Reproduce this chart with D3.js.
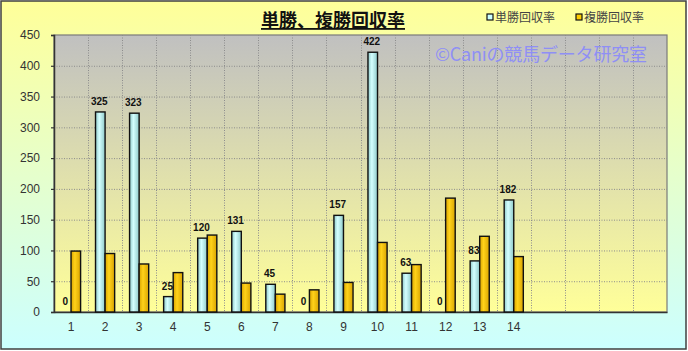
<!DOCTYPE html>
<html>
<head>
<meta charset="utf-8">
<script src="https://cdn.jsdelivr.net/npm/d3@7"></script>
<style>
  html, body { margin: 0; padding: 0; background: #fff; }
  svg { display: block; }
</style>
</head>
<body>
<div id="chart"></div>
<script>
// Data
const categories = ["1", "2", "3", "4", "5", "6", "7", "8", "9", "10", "11", "12", "13", "14"];
const slotCount = 18; // the x axis has room for 18 races, only 14 are filled
const tanValues = [0, 325, 323, 25, 120, 131, 45, 0, 157, 422, 63, 0, 83, 182];   // 単勝回収率
const fukuValues = [99, 95, 78, 64, 125, 47, 29, 36, 48, 113, 77, 185, 123, 90];  // 複勝回収率
const seriesNames = ["単勝回収率", "複勝回収率"];
const yTicks = [0, 50, 100, 150, 200, 250, 300, 350, 400, 450];

const width = 688, height = 351;
const plot = { left: 54, top: 35, right: 667, bottom: 312 };
const jpFont = "'Noto Sans CJK JP', sans-serif";
const numFont = "'Liberation Sans', Arial, sans-serif";

const svg = d3.select("#chart").append("svg")
  .attr("width", width)
  .attr("height", height);

const defs = svg.append("defs");

// outer background: yellow at top fading to pale cyan
const bgGrad = defs.append("linearGradient").attr("id", "bgGrad")
  .attr("x1", 0).attr("y1", 0).attr("x2", 0).attr("y2", 1);
bgGrad.append("stop").attr("offset", "0%").attr("stop-color", "#ffff99");
bgGrad.append("stop").attr("offset", "100%").attr("stop-color", "#ccffff");

// plot area: gray at top to light yellow at bottom
const plotGrad = defs.append("linearGradient").attr("id", "plotGrad")
  .attr("x1", 0).attr("y1", 0).attr("x2", 0).attr("y2", 1);
plotGrad.append("stop").attr("offset", "0%").attr("stop-color", "#c0c0c0");
plotGrad.append("stop").attr("offset", "100%").attr("stop-color", "#ffff99");

// bar shading, a bit of a cylinder look
const barGrads = [
  { id: "tanGrad", edge: "#8fc9c9", mid: "#d4ffff" },
  { id: "fukuGrad", edge: "#d9a400", mid: "#ffd21a" }
];
barGrads.forEach(g => {
  const lg = defs.append("linearGradient").attr("id", g.id)
    .attr("x1", 0).attr("y1", 0).attr("x2", 1).attr("y2", 0);
  lg.append("stop").attr("offset", "0%").attr("stop-color", g.edge);
  lg.append("stop").attr("offset", "40%").attr("stop-color", g.mid);
  lg.append("stop").attr("offset", "100%").attr("stop-color", g.edge);
});

svg.append("rect")
  .attr("x", 1).attr("y", 1)
  .attr("width", width - 3).attr("height", height - 3)
  .attr("fill", "url(#bgGrad)")
  .attr("stroke", "#404040")
  .attr("stroke-width", 1.5);

svg.append("rect")
  .attr("x", plot.left).attr("y", plot.top)
  .attr("width", plot.right - plot.left).attr("height", plot.bottom - plot.top)
  .attr("fill", "url(#plotGrad)")
  .attr("stroke", "#7a7a7a")
  .attr("stroke-width", 1.2);

// scales
const x0 = d3.scaleBand()
  .domain(d3.range(slotCount))
  .range([plot.left, plot.right])
  .padding(0);

const x1 = d3.scaleBand()
  .domain(["tan", "fuku"])
  .range([0, x0.bandwidth()])
  .paddingInner(0)
  .paddingOuter(0.78);

const y = d3.scaleLinear()
  .domain([0, 450])
  .range([plot.bottom, plot.top]);

// grid
const grid = svg.append("g");
grid.selectAll("line.h")
  .data(yTicks.slice(1, -1))
  .join("line")
  .attr("x1", plot.left).attr("x2", plot.right)
  .attr("y1", d => y(d) + 0.5).attr("y2", d => y(d) + 0.5)
  .attr("stroke", "#8c8c8c")
  .attr("stroke-width", 1)
  .attr("stroke-dasharray", "1,1.5");
grid.selectAll("line.v")
  .data(d3.range(1, slotCount))
  .join("line")
  .attr("x1", d => Math.round(x0(d)) + 0.5).attr("x2", d => Math.round(x0(d)) + 0.5)
  .attr("y1", plot.top).attr("y2", plot.bottom)
  .attr("stroke", "#8c8c8c")
  .attr("stroke-width", 1)
  .attr("stroke-dasharray", "1,1.5");

// axes
const yAxis = svg.append("g")
  .attr("transform", `translate(${plot.left},0)`)
  .call(d3.axisLeft(y).tickValues(yTicks).tickSize(3).tickPadding(11));
yAxis.select(".domain").attr("stroke", "#333").attr("stroke-width", 1.5);
yAxis.selectAll(".tick line").attr("stroke", "#333").attr("stroke-width", 1.2);
yAxis.selectAll("text")
  .style("font-family", numFont)
  .style("font-size", "12px")
  .style("fill", "#333");

const xAxis = svg.append("g")
  .attr("transform", `translate(0,${plot.bottom})`)
  .call(d3.axisBottom(x0).tickFormat(i => categories[i] || "").tickSize(0).tickPadding(10));
xAxis.select(".domain").attr("stroke", "#333").attr("stroke-width", 1.5);
xAxis.selectAll("text")
  .style("font-family", numFont)
  .style("font-size", "12px")
  .style("fill", "#333");

// bars
const rows = categories.map((c, i) => ({ i, tan: tanValues[i], fuku: fukuValues[i] }));

const groups = svg.selectAll("g.race")
  .data(rows)
  .join("g")
  .attr("class", "race")
  .attr("transform", d => `translate(${x0(d.i)},0)`);

groups.filter(d => d.tan > 0).append("rect")
  .attr("x", x1("tan"))
  .attr("y", d => y(d.tan))
  .attr("width", x1.bandwidth())
  .attr("height", d => y(0) - y(d.tan))
  .attr("fill", "url(#tanGrad)")
  .attr("stroke", "#111")
  .attr("stroke-width", 1.4);

groups.filter(d => d.fuku > 0).append("rect")
  .attr("x", x1("fuku"))
  .attr("y", d => y(d.fuku))
  .attr("width", x1.bandwidth())
  .attr("height", d => y(0) - y(d.fuku))
  .attr("fill", "url(#fukuGrad)")
  .attr("stroke", "#111")
  .attr("stroke-width", 1.4);

// value labels on the 単勝 bars only
groups.append("text")
  .attr("x", x1("tan") + x1.bandwidth() / 2 - 1)
  .attr("y", d => y(d.tan) - 7)
  .attr("text-anchor", "middle")
  .style("font-family", numFont)
  .style("font-size", "10px")
  .style("font-weight", "bold")
  .style("fill", "#111")
  .text(d => d.tan);

// title
svg.append("text")
  .attr("x", 333)
  .attr("y", 27)
  .attr("text-anchor", "middle")
  .style("font-family", jpFont)
  .style("font-size", "18px")
  .style("font-weight", "bold")
  .style("fill", "#111")
  .style("text-decoration", "underline")
  .text("単勝、複勝回収率");

// legend
const legendColors = ["#ccffff", "#ffcc00"];
const legendX = [487, 576];
const legend = svg.selectAll("g.legend")
  .data(seriesNames)
  .join("g")
  .attr("class", "legend")
  .attr("transform", (d, i) => `translate(${legendX[i]},14)`);
legend.append("rect")
  .attr("x", 0).attr("y", 0)
  .attr("width", 6).attr("height", 6)
  .attr("fill", (d, i) => legendColors[i])
  .attr("stroke", "#111")
  .attr("stroke-width", 1.2);
legend.append("text")
  .attr("x", 8)
  .attr("y", 8)
  .style("font-family", jpFont)
  .style("font-size", "12px")
  .style("fill", "#444")
  .text(d => d);

// watermark
svg.append("text")
  .attr("x", 435)
  .attr("y", 61)
  .attr("textLength", 212)
  .style("font-family", jpFont)
  .style("font-size", "18px")
  .style("fill", "#8f8ff5")
  .text("©Caniの競馬データ研究室");
</script>
</body>
</html>
